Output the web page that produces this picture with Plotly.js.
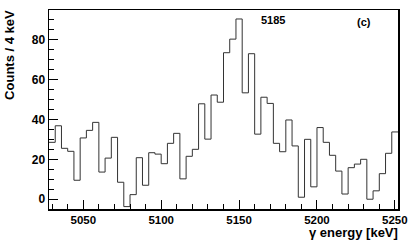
<!DOCTYPE html>
<html>
<head>
<meta charset="utf-8">
<script src="https://cdn.plot.ly/plotly-3.0.1.min.js"></script>
<style>html,body{margin:0;padding:0;background:#fff;}#chart{width:415px;height:246px;}</style>
</head>
<body>
<div id="chart"></div>
<script>
// Bin low edges (keV), 4 keV bins
const energyLow = [5028,5032,5036,5040,5044,5048,5052,5056,5060,5064,5068,5072,5076,5080,5084,5088,5092,5096,5100,5104,5108,5112,5116,5120,5124,5128,5132,5136,5140,5144,5148,5152,5156,5160,5164,5168,5172,5176,5180,5184,5188,5192,5196,5200,5204,5208,5212,5216,5220,5224,5228,5232,5236,5240,5244,5248];
const binWidth = 4;
// Counts per bin
const counts = [28.5,36.8,25.5,24.0,9.5,30.7,34.5,38.5,13.6,20.6,31.0,8.5,-3.7,2.3,20.8,7.0,23.3,22.6,17.8,28.0,33.0,10.2,21.5,25.0,47.8,30.1,52.2,48.6,73.4,80.2,90.3,53.3,72.9,32.6,51.1,48.0,28.0,23.8,39.7,26.7,1.0,30.0,6.2,35.9,28.5,22.0,14.1,2.6,15.8,17.6,20.0,0.0,4.2,12.8,23.0,33.7];
const peakLabel = "5185";
const panelLabel = "(c)";
const xTitle = "γ energy [keV]";
const yTitle = "Counts / 4 keV";

const xs = energyLow.concat([energyLow[energyLow.length-1] + binWidth]);
const ys = counts.concat([counts[counts.length-1]]);

const font = {family: "Liberation Sans, Arial, sans-serif", size: 12, color: "#000", weight: "bold"};
const xTickFont = Object.assign({}, font, {size: 11.5});
const titleFont = Object.assign({}, font, {size: 13});
const labelFont = Object.assign({}, font, {size: 11});

const trace = {
  x: xs, y: ys, type: "scatter", mode: "lines",
  line: {shape: "hv", color: "#333", width: 1},
  hoverinfo: "skip"
};

const layout = {
  width: 415, height: 246,
  margin: {l: 49, r: 17, t: 10, b: 37, pad: 0},
  paper_bgcolor: "#fff", plot_bgcolor: "#fff",
  showlegend: false,
  font: font,
  xaxis: {
    range: [5028, 5252], showgrid: false, zeroline: false,
    showline: true, linecolor: "#000", linewidth: 1.5, mirror: true,
    ticks: "inside", ticklen: 9, tickwidth: 1, tickcolor: "#000",
    tick0: 5050, dtick: 50, tickfont: xTickFont,
    minor: {ticks: "inside", dtick: 10, tick0: 5050, ticklen: 5, tickwidth: 1, tickcolor: "#000", showgrid: false}
  },
  yaxis: {
    range: [-4.9, 94.8], showgrid: false, zeroline: false,
    showline: true, linecolor: "#000", linewidth: 1.5, mirror: true,
    ticks: "inside", ticklen: 9, tickwidth: 1, tickcolor: "#000",
    tick0: 0, dtick: 20, tickfont: font,
    minor: {ticks: "inside", dtick: 5, tick0: 0, ticklen: 5, tickwidth: 1, tickcolor: "#000", showgrid: false}
  },
  annotations: [
    {text: peakLabel, x: 5163, y: 89.8, xref: "x", yref: "y", xanchor: "left", yanchor: "middle", showarrow: false, font: labelFont},
    {text: panelLabel, x: 5230, y: 88.7, xref: "x", yref: "y", xanchor: "center", yanchor: "middle", showarrow: false, font: labelFont},
    {text: xTitle, x: 1.005, y: -0.12, xref: "paper", yref: "paper", xanchor: "right", yanchor: "middle", showarrow: false, font: titleFont},
    {text: yTitle, x: -0.115, y: 1.01, xref: "paper", yref: "paper", xanchor: "center", yanchor: "top", textangle: -90, showarrow: false, font: titleFont}
  ]
};

Plotly.newPlot("chart", [trace], layout, {staticPlot: true, displayModeBar: false});
</script>
</body>
</html>
